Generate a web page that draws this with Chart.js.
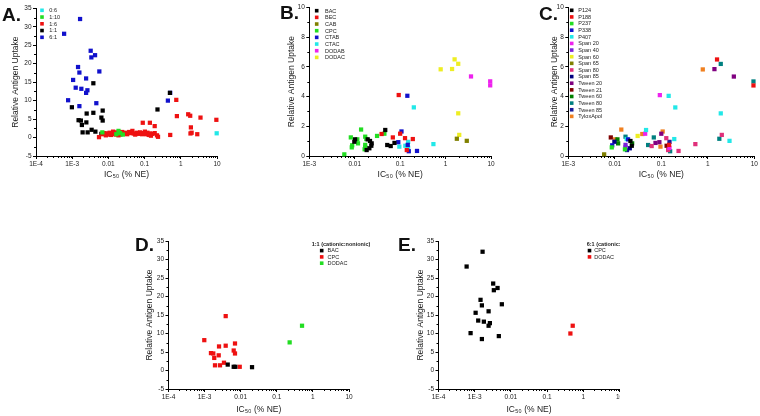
<!DOCTYPE html>
<html>
<head>
<meta charset="utf-8">
<script src="https://cdn.jsdelivr.net/npm/chart.js@4.4.1/dist/chart.umd.min.js"></script>
<style>
  html, body { margin: 0; padding: 0; background: #fff; }
  body { position: relative; width: 760px; height: 416px; overflow: hidden; }
  .panel { position: absolute; overflow: hidden; }
  .panel canvas { position: absolute; left: 0; top: 0; }
  .tag { position: absolute; font: bold 19px/1 'Liberation Sans', Arial, sans-serif; color: #111; }
</style>
</head>
<body>
<div class="panel" style="left:0;top:0;width:250px;height:200px"><canvas id="chartA" width="250" height="200"></canvas></div>
<div class="panel" style="left:250px;top:0;width:255px;height:200px"><canvas id="chartB" width="255" height="200"></canvas></div>
<div class="panel" style="left:505px;top:0;width:255px;height:200px"><canvas id="chartC" width="255" height="200"></canvas></div>
<div class="panel" style="left:100px;top:215px;width:270px;height:201px"><canvas id="chartD" width="270" height="201"></canvas></div>
<div class="panel" style="left:370px;top:215px;width:250px;height:201px"><canvas id="chartE" width="270" height="201"></canvas></div>
<div class="tag" style="left:2px;top:5px">A.</div>
<div class="tag" style="left:280px;top:3px">B.</div>
<div class="tag" style="left:539px;top:4px">C.</div>
<div class="tag" style="left:135px;top:235px">D.</div>
<div class="tag" style="left:398px;top:235px">E.</div>
<script>
// axis ticks
const xTicksWide = [1e-4, 1e-3, 0.01, 0.1, 1, 10];
const xLabelsWide = ['1E-4', '1E-3', '0.01', '0.1', '1', '10'];
const xTicksNarrow = [1e-3, 0.01, 0.1, 1, 10];
const xLabelsNarrow = ['1E-3', '0.01', '0.1', '1', '10'];
const yTicksWide = [-5, 0, 5, 10, 15, 20, 25, 30, 35];
const yTicksNarrow = [0, 2, 4, 6, 8, 10];

// panel D: 1:1 (cationic:nonionic)
const dBAC = [[0.00437, 1.6], [0.0064, 1.0], [0.0071, 1.0], [0.0206, 0.9]];
const dCPC = [[0.00384, 14.7], [0.00098, 8.2], [0.00695, 7.3], [0.00251, 6.5], [0.00384, 6.7],
  [0.0015, 4.7], [0.00174, 4.6], [0.0064, 5.4], [0.00695, 4.6], [0.00246, 4.1], [0.00185, 3.4],
  [0.00344, 2.1], [0.00194, 1.4], [0.00267, 1.4], [0.0094, 1.0]];
const dDODAC = [[0.227, 7.6], [0.5, 12.1]];

// panel E: 6:1 (cationic:nonionic)
const eCPC = [[0.00165, 32.1], [0.000598, 28.1], [0.00324, 23.5], [0.00428, 22.3], [0.00338, 21.7],
  [0.00562, 17.9], [0.00145, 19.1], [0.00158, 17.6], [0.00106, 15.6], [0.00242, 16.0],
  [0.00125, 13.5], [0.00179, 13.2], [0.00263, 12.8], [0.00242, 12.1], [0.00077, 10.1],
  [0.00158, 8.5], [0.00464, 9.3]];
const eDODAC = [[0.44, 10.0], [0.51, 12.1]];

// panel A: by ratio
const a06 = [[9.8, 1.15]];
const a110 = [[0.0068, 1.4], [0.0165, 0.9], [0.019, 1.8], [0.021, 1.2], [0.025, 0.8]];
const a16 = [[0.0055, 0.1], [0.0068, 0.9], [0.0076, 1.2], [0.0085, 0.6], [0.0092, 1.1], [0.01, 0.8],
  [0.0108, 1.3], [0.0118, 0.7], [0.0128, 1.0], [0.0135, 1.6], [0.0148, 1.2], [0.0158, 0.8],
  [0.0168, 1.4], [0.0178, 1.0], [0.019, 0.6], [0.0205, 1.2], [0.0222, 0.9], [0.024, 1.5],
  [0.0262, 1.1], [0.0295, 1.3], [0.033, 0.9], [0.0375, 1.5], [0.042, 1.2], [0.046, 1.8],
  [0.05, 1.1], [0.055, 0.8], [0.061, 1.3], [0.068, 1.0], [0.075, 1.4], [0.085, 0.9], [0.095, 1.2],
  [0.102, 1.6], [0.11, 0.9], [0.12, 1.3], [0.13, 0.7], [0.14, 1.1], [0.15, 0.5], [0.165, 1.0],
  [0.19, 1.2], [0.22, 0.6], [0.235, 0.2], [0.089, 4.0], [0.14, 4.0], [0.19, 3.1],
  [0.51, 0.7], [0.75, 10.2], [0.78, 5.8], [1.6, 6.3], [1.82, 5.9], [3.5, 5.4], [9.6, 4.8],
  [1.9, 2.75], [1.85, 1.1], [1.99, 1.3], [2.85, 0.9]];
const a11 = [...dBAC, ...dCPC, ...dDODAC];
const a61 = [...eCPC, ...eDODAC];

// panel B: cationic surfactant
const bBAC = [[0.0102, 1.12], [0.0098, 0.96], [0.0193, 1.12], [0.0217, 1.01], [0.0236, 0.85],
  [0.0232, 0.69], [0.021, 0.52], [0.0183, 0.4], [0.047, 1.75], [0.052, 0.74], [0.062, 0.67], [0.075, 0.88]];
const bBEC = [[0.039, 1.48], [0.069, 1.25], [0.1, 1.5], [0.093, 4.1], [0.128, 1.2], [0.19, 1.14], [0.14, 0.4]];
const bCAB = [[1.77, 1.16], [2.93, 1.02]];
const bCPC = [[0.0059, 0.11], [0.0082, 1.25], [0.0088, 0.72], [0.0086, 0.58], [0.0114, 1.12],
  [0.0118, 0.85], [0.0138, 1.78], [0.017, 1.3], [0.018, 1.14], [0.017, 0.75], [0.017, 0.58],
  [0.0165, 0.45], [0.031, 1.35], [0.045, 1.5]];
const bCTAB = [[0.144, 4.05], [0.107, 1.65], [0.091, 0.93], [0.147, 0.75], [0.155, 0.32], [0.235, 0.34]];
const bCTAC = [[0.2, 3.27], [0.096, 0.63], [0.13, 0.69], [0.15, 0.95], [0.15, 0.55], [0.54, 0.8]];
const bDODAB = [[3.63, 5.35], [9.6, 5.02], [9.6, 4.75]];
const bDODAC = [[0.78, 5.83], [1.39, 5.85], [1.58, 6.5], [1.9, 6.2], [1.9, 2.87], [2.0, 1.42]];

// panel C: nonionic surfactant
const cP124 = [[0.0217, 1.01], [0.0232, 0.69]];
const cP188 = [[1.58, 6.5], [9.6, 4.75], [0.147, 0.75]];
const cP237 = [[0.0165, 0.45], [0.0086, 0.58]];
const cP338 = [[0.0088, 0.72], [0.0193, 1.12]];
const cP407 = [[0.047, 1.75], [0.19, 1.14], [2.93, 1.02], [0.018, 1.14], [0.144, 4.05], [0.2, 3.27], [1.9, 2.87]];
const cSpan20 = [[0.093, 4.1], [0.045, 1.5], [0.15, 0.55]];
const cSpan40 = [[0.017, 0.75], [0.017, 0.58]];
const cSpan60 = [[0.031, 1.35]];
const cSpan65 = [[0.0059, 0.11]];
const cSpan80 = [[2.0, 1.42], [0.54, 0.8], [0.235, 0.34], [0.062, 0.67], [0.128, 1.2], [0.14, 0.4]];
const cSpan85 = [[0.0098, 0.96], [0.021, 0.52]];
const cTween20 = [[1.39, 5.85], [3.63, 5.35], [0.075, 0.88], [0.091, 0.93], [0.1, 1.5]];
const cTween21 = [[0.0082, 1.25], [0.13, 0.69]];
const cTween60 = [[0.0114, 1.12], [0.0236, 0.85], [0.0118, 0.85]];
const cTween80 = [[1.9, 6.2], [9.6, 5.02], [1.77, 1.16], [0.017, 1.3], [0.052, 0.74], [0.069, 1.25], [0.155, 0.32]];
const cTween85 = [[0.0183, 0.4], [0.15, 0.95]];
const cTylox = [[0.78, 5.83], [0.0138, 1.78], [0.0102, 1.12], [0.039, 1.48], [0.107, 1.65], [0.096, 0.63]];

const FONT = "'Liberation Sans', Arial, sans-serif";
Chart.defaults.font.family = FONT;
Chart.defaults.color = '#222';

// small square legend drawn inside the canvas
const boxLegend = {
  id: 'boxLegend',
  afterDatasetsDraw(chart, args, opts) {
    const ctx = chart.ctx;
    ctx.save();
    ctx.textBaseline = 'middle';
    ctx.textAlign = 'left';
    let y = opts.y;
    if (opts.title) {
      ctx.font = 'bold 5.5px ' + FONT;
      ctx.fillStyle = '#222';
      ctx.fillText(opts.title, opts.titleX, y);
      y += opts.row;
    }
    ctx.font = '5.5px ' + FONT;
    chart.data.datasets.forEach((ds) => {
      ctx.fillStyle = ds.backgroundColor;
      ctx.fillRect(opts.x - 1.8, y - 1.8, 3.6, 3.6);
      ctx.fillStyle = '#222';
      ctx.fillText(ds.label, opts.text, y + 0.3);
      y += opts.row;
    });
    ctx.restore();
  }
};

// minor tick marks on both axes
const minorTicks = {
  id: 'minorTicks',
  afterDraw(chart, args, opts) {
    const { ctx, scales: { x, y } } = chart;
    ctx.save();
    ctx.strokeStyle = '#000';
    ctx.lineWidth = 1;
    ctx.beginPath();
    for (let i = 0; i < opts.decades.length - 1; i++) {
      for (let k = 2; k < 10; k++) {
        const px = Math.round(x.getPixelForValue(opts.decades[i] * k)) + 0.5;
        ctx.moveTo(px, x.top);
        ctx.lineTo(px, x.top + 2);
      }
    }
    for (let v = y.min + opts.yStep / 2; v < y.max; v += opts.yStep) {
      const py = Math.round(y.getPixelForValue(v)) + 0.5;
      ctx.moveTo(y.right - 2, py);
      ctx.lineTo(y.right, py);
    }
    ctx.stroke();
    ctx.restore();
  }
};

function xAxis(ticks, labels, height, titlePad) {
  return {
    type: 'logarithmic', position: 'bottom',
    min: ticks[0], max: ticks[ticks.length - 1],
    afterBuildTicks: (s) => { s.ticks = ticks.map((v) => ({ value: v })); },
    afterFit: (s) => { s.height = height; },
    ticks: { autoSkip: false, maxRotation: 0, padding: 1, font: { size: 6.5 }, callback: (v, i) => labels[i] },
    grid: { drawOnChartArea: false, tickLength: 3, tickColor: '#000', color: '#000' },
    border: { color: '#000', width: 1 },
    title: { display: true, text: 'IC₅₀ (% NE)', font: { size: 8.5 }, padding: { top: 0, bottom: titlePad } }
  };
}

function yAxis(ticks, width, titlePad) {
  return {
    type: 'linear', position: 'left',
    min: ticks[0], max: ticks[ticks.length - 1],
    afterBuildTicks: (s) => { s.ticks = ticks.map((v) => ({ value: v })); },
    afterFit: (s) => { s.width = width; },
    ticks: { autoSkip: false, padding: 1.5, font: { size: 6.5 }, callback: (v) => String(v) },
    grid: { drawOnChartArea: false, tickLength: 3, tickColor: '#000', color: '#000' },
    border: { color: '#000', width: 1 },
    title: { display: true, text: 'Relative Antigen Uptake', font: { size: 8.5 }, padding: { top: titlePad, bottom: 0 } }
  };
}

function makeChart(id, series, cfg) {
  return new Chart(document.getElementById(id), {
    type: 'scatter',
    data: {
      datasets: series.map(([label, color, pts]) => ({
        label: label,
        data: pts.map(([x, y]) => ({ x: x, y: y })),
        backgroundColor: color,
        borderColor: color,
        pointStyle: 'rect',
        pointRadius: 3,
        pointHoverRadius: 3,
        pointBorderWidth: 0,
        clip: false
      }))
    },
    options: {
      responsive: false,
      animation: false,
      events: [],
      layout: { padding: cfg.pad },
      plugins: {
        legend: { display: false },
        tooltip: { enabled: false },
        boxLegend: cfg.legend,
        minorTicks: { decades: cfg.xTicks, yStep: cfg.yStep }
      },
      scales: {
        x: xAxis(cfg.xTicks, cfg.xLabels, cfg.xHeight, cfg.xTitlePad),
        y: yAxis(cfg.yTicks, cfg.yWidth, cfg.yTitlePad)
      }
    },
    plugins: [boxLegend, minorTicks]
  });
}

makeChart('chartA', [
  ['0:6', '#22e8e8', a06],
  ['1:10', '#22dd22', a110],
  ['1:6', '#ee1111', a16],
  ['1:1', '#000000', a11],
  ['6:1', '#1111cc', a61]
], {
  pad: { left: 4, top: 8.3, right: 33, bottom: 0 },
  xTicks: xTicksWide, xLabels: xLabelsWide, xHeight: 44, xTitlePad: 19.9,
  yTicks: yTicksWide, yWidth: 32, yTitlePad: 6.4, yStep: 5,
  legend: { x: 42, y: 10.3, row: 6.75, text: 49.3 }
});

makeChart('chartB', [
  ['BAC', '#000000', bBAC],
  ['BEC', '#ee1111', bBEC],
  ['CAB', '#808000', bCAB],
  ['CPC', '#22dd22', bCPC],
  ['CTAB', '#1111cc', bCTAB],
  ['CTAC', '#22e8e8', bCTAC],
  ['DODAB', '#ee22ee', bDODAB],
  ['DODAC', '#eeee22', bDODAC]
], {
  pad: { left: 30, top: 7.3, right: 14, bottom: 0 },
  xTicks: xTicksNarrow, xLabels: xLabelsNarrow, xHeight: 44, xTitlePad: 19.9,
  yTicks: yTicksNarrow, yWidth: 29.3, yTitlePad: 6.6, yStep: 2,
  legend: { x: 66.7, y: 10.7, row: 6.67, text: 75 }
});

makeChart('chartC', [
  ['P124', '#000000', cP124],
  ['P188', '#ee1111', cP188],
  ['P237', '#22dd22', cP237],
  ['P338', '#1111cc', cP338],
  ['P407', '#22e8e8', cP407],
  ['Span 20', '#ee22ee', cSpan20],
  ['Span 40', '#7a22d8', cSpan40],
  ['Span 60', '#eeee22', cSpan60],
  ['Span 65', '#808000', cSpan65],
  ['Span 80', '#e0307a', cSpan80],
  ['Span 85', '#000080', cSpan85],
  ['Tween 20', '#800080', cTween20],
  ['Tween 21', '#800000', cTween21],
  ['Tween 60', '#008000', cTween60],
  ['Tween 80', '#008080', cTween80],
  ['Tween 85', '#1a1a9a', cTween85],
  ['TyloxApol', '#f08020', cTylox]
], {
  pad: { left: 38, top: 7.5, right: 5.7, bottom: 0 },
  xTicks: xTicksNarrow, xLabels: xLabelsNarrow, xHeight: 44, xTitlePad: 19.9,
  yTicks: yTicksNarrow, yWidth: 25.3, yTitlePad: 6.2, yStep: 2,
  legend: { x: 66.7, y: 10.3, row: 6.63, text: 73.3 }
});

makeChart('chartD', [
  ['BAC', '#000000', dBAC],
  ['CPC', '#ee1111', dCPC],
  ['DODAC', '#22dd22', dDODAC]
], {
  pad: { left: 38, top: 26, right: 21, bottom: 0 },
  xTicks: xTicksWide, xLabels: xLabelsWide, xHeight: 27, xTitlePad: 0.9,
  yTicks: yTicksWide, yWidth: 30.5, yTitlePad: 6.2, yStep: 5,
  legend: { title: '1:1 (cationic:nonionic)', titleX: 211.7, y: 29.3, row: 6.3, x: 221.7, text: 227.5 }
});

makeChart('chartE', [
  ['CPC', '#000000', eCPC],
  ['DODAC', '#ee1111', eDODAC]
], {
  pad: { left: 38, top: 26, right: 20.5, bottom: 0 },
  xTicks: xTicksWide, xLabels: xLabelsWide, xHeight: 27, xTitlePad: 0.9,
  yTicks: yTicksWide, yWidth: 30.5, yTitlePad: 7.4, yStep: 5,
  legend: { title: '6:1 (cationic:nonionic)', titleX: 216.7, y: 29.3, row: 6.3, x: 219.5, text: 224.2 }
});
</script>
</body>
</html>
